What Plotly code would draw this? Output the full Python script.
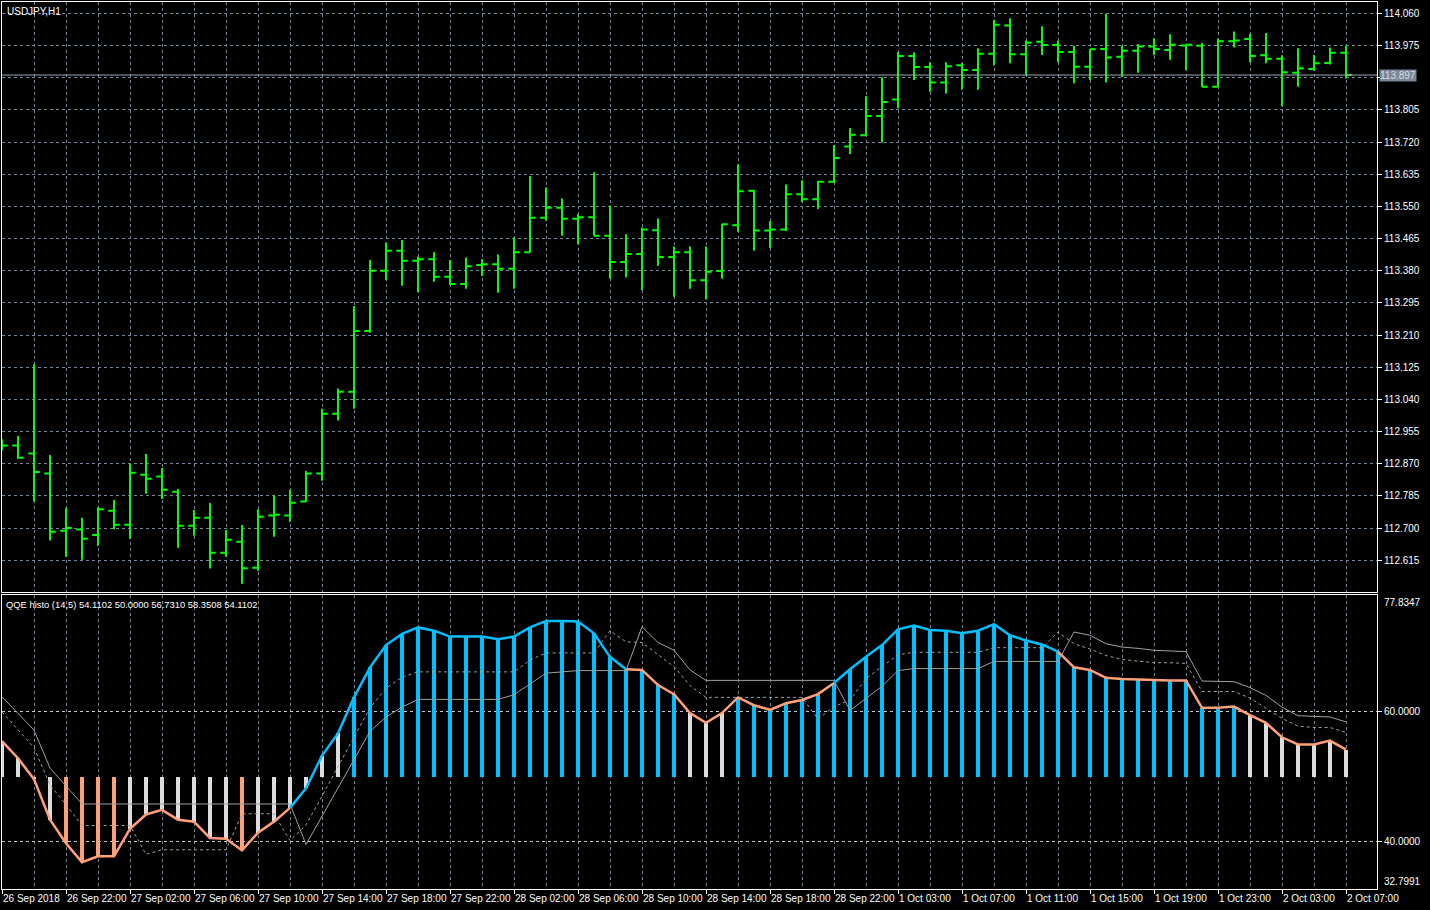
import plotly.graph_objects as go

# ---------------- data ----------------
time_labels = ["26 Sep 2018", "26 Sep 22:00", "27 Sep 02:00", "27 Sep 06:00", "27 Sep 10:00",
               "27 Sep 14:00", "27 Sep 18:00", "27 Sep 22:00", "28 Sep 02:00", "28 Sep 06:00",
               "28 Sep 10:00", "28 Sep 14:00", "28 Sep 18:00", "28 Sep 22:00", "1 Oct 03:00",
               "1 Oct 07:00", "1 Oct 11:00", "1 Oct 15:00", "1 Oct 19:00", "1 Oct 23:00",
               "2 Oct 03:00", "2 Oct 07:00"]

opens = [112.925, 112.918, 112.897, 112.844, 112.693, 112.696, 112.682, 112.746, 112.709, 112.841,
         112.836, 112.796, 112.706, 112.727, 112.635, 112.664, 112.595, 112.733, 112.733, 112.770,
         112.844, 113.002, 113.060, 113.221, 113.380, 113.433, 113.406, 113.410, 113.364, 113.345,
         113.395, 113.397, 113.385, 113.429, 113.520, 113.546, 113.517, 113.521, 113.472, 113.403,
         113.424, 113.487, 113.416, 113.429, 113.355, 113.379, 113.500, 113.591, 113.486, 113.489,
         113.582, 113.569, 113.615, 113.708, 113.738, 113.789, 113.832, 113.947, 113.918, 113.877,
         113.923, 113.910, 113.953, 114.028, 113.952, 113.985, 113.976, 113.958, 113.919, 113.966,
         113.945, 113.961, 113.972, 113.963, 113.975, 113.974, 113.866, 113.986, 113.992, 113.949,
         113.940, 113.903, 113.913, 113.929, 113.956]
highs = [112.935, 112.943, 113.133, 112.893, 112.753, 112.727, 112.755, 112.774, 112.871, 112.896,
         112.859, 112.803, 112.748, 112.766, 112.695, 112.708, 112.750, 112.787, 112.801, 112.851,
         113.015, 113.069, 113.287, 113.408, 113.454, 113.461, 113.417, 113.429, 113.408, 113.415,
         113.410, 113.423, 113.468, 113.630, 113.600, 113.571, 113.529, 113.640, 113.552, 113.476,
         113.494, 113.518, 113.444, 113.444, 113.444, 113.504, 113.661, 113.593, 113.511, 113.608,
         113.619, 113.617, 113.712, 113.757, 113.841, 113.891, 113.957, 113.957, 113.931, 113.931,
         113.929, 113.968, 114.043, 114.047, 113.988, 114.026, 113.988, 113.974, 113.966, 114.058,
         113.974, 113.979, 113.994, 114.005, 113.978, 113.982, 113.993, 114.012, 114.006, 114.008,
         113.949, 113.968, 113.950, 113.970, 113.975]
lows = [112.905, 112.883, 112.770, 112.667, 112.624, 112.616, 112.653, 112.697, 112.672, 112.791,
        112.777, 112.648, 112.680, 112.593, 112.624, 112.553, 112.587, 112.677, 112.717, 112.769,
        112.825, 112.984, 113.015, 113.216, 113.355, 113.340, 113.324, 113.351, 113.342, 113.332,
        113.366, 113.322, 113.332, 113.429, 113.512, 113.472, 113.450, 113.472, 113.359, 113.363,
        113.329, 113.393, 113.311, 113.332, 113.304, 113.359, 113.483, 113.433, 113.440, 113.485,
        113.561, 113.543, 113.612, 113.688, 113.738, 113.719, 113.809, 113.884, 113.853, 113.848,
        113.859, 113.858, 113.923, 113.928, 113.896, 113.950, 113.931, 113.875, 113.884, 113.877,
        113.892, 113.903, 113.949, 113.937, 113.910, 113.866, 113.866, 113.970, 113.931, 113.928,
        113.815, 113.866, 113.908, 113.925, 113.888]
closes = [112.918, 112.886, 112.848, 112.690, 112.700, 112.672, 112.750, 112.709, 112.846, 112.830,
          112.801, 112.706, 112.727, 112.635, 112.669, 112.594, 112.730, 112.735, 112.767, 112.844,
          113.002, 113.060, 113.221, 113.380, 113.433, 113.406, 113.410, 113.364, 113.345, 113.392,
          113.397, 113.385, 113.429, 113.520, 113.546, 113.517, 113.521, 113.472, 113.403, 113.424,
          113.489, 113.416, 113.429, 113.355, 113.377, 113.503, 113.590, 113.486, 113.489, 113.582,
          113.569, 113.615, 113.678, 113.739, 113.789, 113.826, 113.947, 113.918, 113.877, 113.920,
          113.910, 113.953, 114.030, 113.952, 113.982, 113.976, 113.958, 113.919, 113.965, 113.943,
          113.961, 113.972, 113.966, 113.977, 113.977, 113.866, 113.986, 113.988, 113.947, 113.940,
          113.904, 113.915, 113.928, 113.956, 113.897]

qqe = [55.4, 52.8, 49.6, 43.4, 39.8, 36.9, 37.8, 37.8, 42.0, 44.2,
       44.9, 43.4, 43.1, 40.6, 40.5, 38.7, 41.4, 43.1, 45.2, 48.2,
       53.2, 56.6, 62.1, 66.7, 70.1, 71.8, 72.8, 72.3, 71.4, 71.4,
       71.4, 71.0, 71.4, 72.8, 73.8, 73.8, 73.7, 71.9, 68.3, 66.4,
       66.3, 64.0, 62.6, 59.7, 58.2, 59.7, 62.1, 60.9, 60.2, 61.2,
       61.7, 62.6, 64.3, 66.4, 68.3, 70.1, 72.5, 73.1, 72.4, 72.3,
       71.9, 72.3, 73.3, 71.6, 70.8, 70.2, 69.1, 66.7, 66.3, 65.1,
       64.9, 64.8, 64.7, 64.7, 64.7, 60.5, 60.5, 60.7, 59.4, 58.2,
       56.0, 54.9, 54.9, 55.5, 54.1102]
trail_slow = [62.2, 59.7, 57.1, 51.3, 48.5, 45.8, 45.8, 45.8, 45.8, 45.8,
              45.8, 45.8, 45.8, 45.8, 45.8, 45.8, 45.8, 45.8, 45.8, 39.6,
              43.9, 48.2, 52.6, 56.9, 59.1, 60.6, 61.8, 61.8, 61.8, 61.8,
              61.8, 61.8, 62.5, 64.1, 65.8, 66.0, 66.2, 66.2, 66.2, 66.2,
              72.9, 70.5, 69.3, 66.3, 64.7, 64.7, 64.7, 64.7, 64.7, 64.7,
              64.7, 64.7, 64.7, 60.1, 62.0, 63.8, 66.2, 66.5, 66.5, 66.5,
              66.5, 66.5, 67.6, 67.6, 67.6, 67.6, 67.6, 72.1, 71.6, 70.3,
              69.8, 69.6, 69.3, 69.2, 69.1, 64.6, 64.5, 64.5, 63.6, 62.4,
              60.6, 59.3, 59.2, 59.1, 58.3508]
trail_fast = [59.9, 57.1, 54.4, 48.7, 45.7, 42.5, 42.5, 42.5, 42.5, 38.1,
              38.8, 38.8, 38.8, 38.8, 38.8, 44.3, 44.3, 44.3, 40.2, 42.6,
              47.0, 51.5, 56.1, 60.5, 63.5, 65.2, 66.0, 66.0, 66.0, 66.0,
              66.0, 66.0, 66.0, 67.8, 68.9, 68.9, 68.9, 68.9, 72.3, 70.6,
              70.5, 68.6, 66.8, 63.9, 62.1, 62.1, 62.1, 62.1, 62.1, 62.1,
              62.1, 58.8, 60.7, 61.7, 65.0, 66.8, 68.6, 69.0, 69.0, 69.0,
              69.0, 69.0, 69.7, 69.7, 69.7, 69.7, 72.1, 70.3, 69.5, 68.5,
              67.9, 67.7, 67.4, 67.4, 67.3, 63.0, 63.0, 63.0, 62.0, 60.5,
              58.9, 57.7, 57.5, 57.5, 56.7310]

price_ticks = [114.060, 113.975, 113.890, 113.805, 113.720, 113.635, 113.550, 113.465,
               113.380, 113.295, 113.210, 113.125, 113.040, 112.955, 112.870, 112.785,
               112.700, 112.615]
qqe_levels = [60.0, 40.0]
qqe_range = [32.7991, 77.8347]
price_range = [112.5311, 114.0899]
last_price = 113.897

# ---------------- styles ----------------
BG = "#000000"
GRID = "#778899"
BAR_GREEN = "#00FF00"
BLUE = "#00BFFF"
SALMON = "#FFA07A"
NEUTRAL = "#DCDCDC"
TRAIL = "#A0A0A0"
LEVEL = "#C8C8C8"
FONT = "Liberation Sans, Arial, sans-serif"

n = len(closes)
idx = list(range(n))

fig = go.Figure()

fig.add_trace(go.Ohlc(
    x=idx, open=opens, high=highs, low=lows, close=closes,
    xaxis="x", yaxis="y", tickwidth=0.36,
    increasing=dict(line=dict(color=BAR_GREEN, width=2)),
    decreasing=dict(line=dict(color=BAR_GREEN, width=2)),
    hoverinfo="skip", showlegend=False))

hist_colors = [BLUE if v > 60 else (SALMON if v < 40 else NEUTRAL) for v in qqe]
fig.add_trace(go.Bar(
    x=idx, y=[v - 50 for v in qqe], base=50, width=0.25,
    marker=dict(color=hist_colors, line=dict(width=0)),
    xaxis="x2", yaxis="y2", hoverinfo="skip", showlegend=False))

fig.add_trace(go.Scatter(x=idx, y=trail_slow, mode="lines", xaxis="x2", yaxis="y2",
                         line=dict(color=TRAIL, width=1), hoverinfo="skip", showlegend=False))
fig.add_trace(go.Scatter(x=idx, y=trail_fast, mode="lines", xaxis="x2", yaxis="y2",
                         line=dict(color=TRAIL, width=1, dash="3px,3px"),
                         hoverinfo="skip", showlegend=False))

# QQE line coloured by trend (up when above slow trailing line)
up = [q > s for q, s in zip(qqe, trail_slow)]
blue_y = [None] * n
salmon_y = [None] * n
for i in range(1, n):
    target = blue_y if up[i] else salmon_y
    target[i - 1] = qqe[i - 1]
    target[i] = qqe[i]
fig.add_trace(go.Scatter(x=idx, y=salmon_y, mode="lines", xaxis="x2", yaxis="y2",
                         line=dict(color=SALMON, width=2.5), connectgaps=False,
                         hoverinfo="skip", showlegend=False))
fig.add_trace(go.Scatter(x=idx, y=blue_y, mode="lines", xaxis="x2", yaxis="y2",
                         line=dict(color=BLUE, width=2.5), connectgaps=False,
                         hoverinfo="skip", showlegend=False))

# ---------------- layout ----------------
L, R, T, B = 2, 53, 2, 21
W, H = 1430, 910
ph = H - T - B
top_dom = [(H - B - 592) / ph, 1.0]
bot_dom = [0.0, (H - B - 594.5) / ph]
xr = [0, (W - L - R) / 16.0]

major = list(range(0, n, 4))
minor_vals = list(range(0, n + 1, 2))

common_x = dict(range=xr, showline=True, linecolor="white", linewidth=1, mirror=True,
                showgrid=True, gridcolor=GRID, griddash="3px,3px", gridwidth=1,
                zeroline=False, tickmode="array", tickvals=major, automargin=False,
                minor=dict(tickvals=minor_vals, showgrid=True, gridcolor=GRID,
                           griddash="3px,3px", gridwidth=1, ticks=""),
                fixedrange=True)

fig.update_layout(
    width=W, height=H, autosize=False,
    paper_bgcolor=BG, plot_bgcolor=BG,
    margin=dict(l=L, r=R, t=T, b=B, pad=0, autoexpand=False),
    showlegend=False, bargap=0,
    font=dict(family=FONT, size=10, color="white"),
    xaxis=dict(domain=[0, 1], anchor="y", showticklabels=False, ticks="",
               rangeslider=dict(visible=False), **common_x),
    xaxis2=dict(domain=[0, 1], anchor="y2", matches="x", ticktext=time_labels,
                showticklabels=True, ticks="outside", ticklen=4, tickcolor="white",
                ticklabelposition="outside right", tickangle=0,
                tickfont=dict(family=FONT, size=10, color="white"), **common_x),
    yaxis=dict(domain=top_dom, anchor="x", side="right", range=price_range,
               tickmode="array", tickvals=price_ticks,
               ticktext=["" if abs(v - 113.890) < 1e-6 else f"{v:.3f}" for v in price_ticks],
               ticks="outside", ticklen=4, tickcolor="white", automargin=False,
               tickfont=dict(family=FONT, size=10, color="white"),
               showgrid=True, gridcolor=GRID, griddash="3px,3px", gridwidth=1,
               showline=True, linecolor="white", linewidth=1, mirror=True,
               zeroline=False, fixedrange=True),
    yaxis2=dict(domain=bot_dom, anchor="x2", side="right", range=qqe_range,
                tickmode="array", tickvals=qqe_levels,
                ticktext=[f"{v:.4f}" for v in qqe_levels],
                ticks="outside", ticklen=4, tickcolor="white", automargin=False,
                tickfont=dict(family=FONT, size=10, color="white"),
                showgrid=True, gridcolor=LEVEL, griddash="3px,3px", gridwidth=1,
                showline=True, linecolor="white", linewidth=1, mirror=True,
                zeroline=False, fixedrange=True),
)

# current price line + label
fig.add_shape(type="line", xref="paper", x0=0, x1=1, yref="y", y0=last_price, y1=last_price,
              line=dict(color="#9AA6B2", width=1), layer="above")
fig.add_annotation(xref="paper", x=1, xanchor="left", xshift=2, yref="y", y=last_price,
                   text=f"{last_price:.3f}", showarrow=False, bgcolor="#778899",
                   font=dict(family=FONT, size=10, color="#DDDDDD"), borderpad=0)

# extreme labels on the indicator scale
fig.add_annotation(xref="paper", x=1, xanchor="left", xshift=5, yref="y2", y=qqe_range[1],
                   yanchor="top", yshift=0, text=f"{qqe_range[1]:.4f}", showarrow=False,
                   font=dict(family=FONT, size=10, color="white"))
fig.add_annotation(xref="paper", x=1, xanchor="left", xshift=5, yref="y2", y=qqe_range[0],
                   yanchor="bottom", yshift=0, text=f"{qqe_range[0]:.4f}", showarrow=False,
                   font=dict(family=FONT, size=10, color="white"))

# titles
fig.add_annotation(xref="paper", yref="paper", x=0, y=1, xanchor="left", yanchor="top",
                   xshift=3, yshift=-2, text="USDJPY,H1", showarrow=False,
                   font=dict(family=FONT, size=10, color="white"))
legend_txt = "QQE histo (14,5) {:.4f} {:.4f} {:.4f} {:.4f} {:.4f}".format(
    qqe[-1], 50.0, trail_fast[-1], trail_slow[-1], qqe[-1])
fig.add_annotation(xref="paper", yref="paper", x=0, y=bot_dom[1], xanchor="left", yanchor="top",
                   xshift=2, yshift=-2, text=legend_txt, showarrow=False,
                   font=dict(family=FONT, size=9.4, color="white"))

fig.write_html("out.html", config={"displayModeBar": False, "staticPlot": True},
               post_script="document.body.style.margin='0';document.body.style.overflow='hidden';")
